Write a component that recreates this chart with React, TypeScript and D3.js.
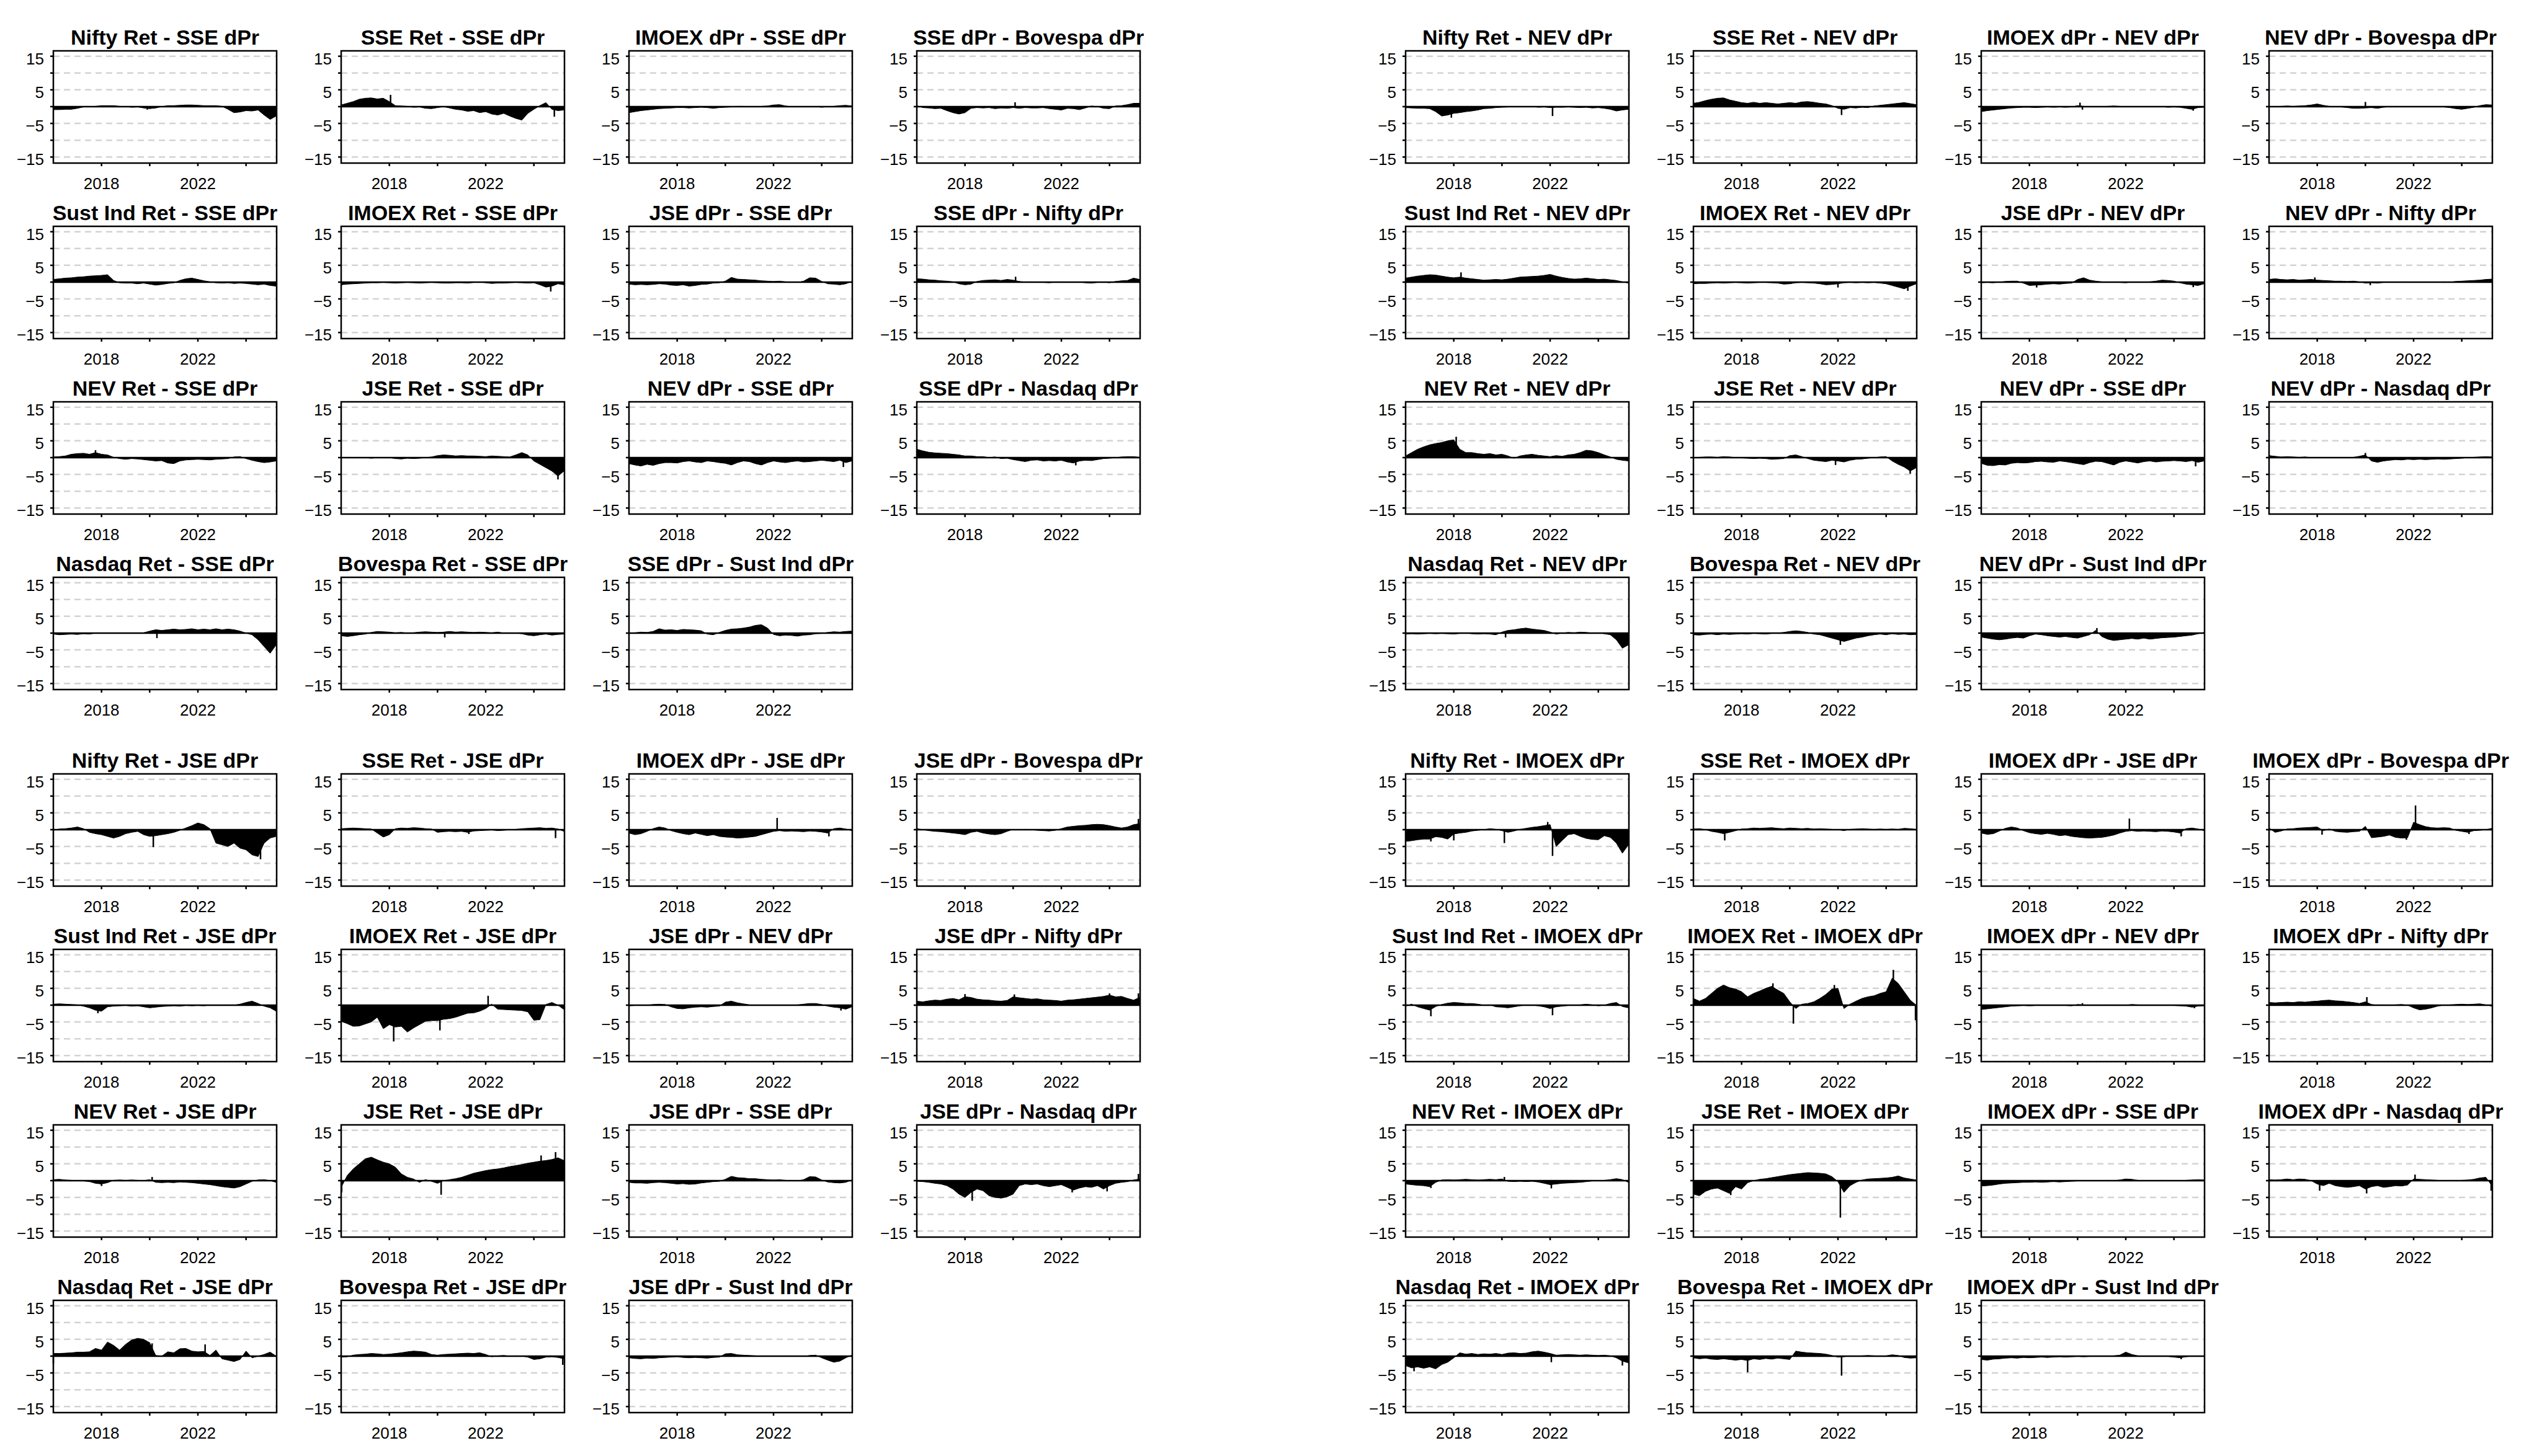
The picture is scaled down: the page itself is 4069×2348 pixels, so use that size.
import React from "react";
import * as d3 from "d3";

// ---------- time grid (quarterly observations) ----------
const QUARTERS: number[] = d3.range(38).map((i) => 2016 + i / 4);
const X_DOMAIN: [number, number] = [2016.0, 2025.27];
const Y_DOMAIN: [number, number] = [-16.8, 16.6];
const Y_TICKS = [-15, -10, -5, 0, 5, 10, 15];
const Y_LABELS = [15, 5, -5, -15];
const X_TICKS = [2018, 2020, 2022, 2024];
const X_LABELS = [2018, 2022];
const GRID_LINES = [-15, -10, -5, 5, 10, 15];

// ---------- block titles ----------
const titlesSSE = [
  "Nifty Ret - SSE dPr", "SSE Ret - SSE dPr", "IMOEX dPr - SSE dPr", "SSE dPr - Bovespa dPr",
  "Sust Ind Ret - SSE dPr", "IMOEX Ret - SSE dPr", "JSE dPr - SSE dPr", "SSE dPr - Nifty dPr",
  "NEV Ret - SSE dPr", "JSE Ret - SSE dPr", "NEV dPr - SSE dPr", "SSE dPr - Nasdaq dPr",
  "Nasdaq Ret - SSE dPr", "Bovespa Ret - SSE dPr", "SSE dPr - Sust Ind dPr",
];
const titlesNEV = [
  "Nifty Ret - NEV dPr", "SSE Ret - NEV dPr", "IMOEX dPr - NEV dPr", "NEV dPr - Bovespa dPr",
  "Sust Ind Ret - NEV dPr", "IMOEX Ret - NEV dPr", "JSE dPr - NEV dPr", "NEV dPr - Nifty dPr",
  "NEV Ret - NEV dPr", "JSE Ret - NEV dPr", "NEV dPr - SSE dPr", "NEV dPr - Nasdaq dPr",
  "Nasdaq Ret - NEV dPr", "Bovespa Ret - NEV dPr", "NEV dPr - Sust Ind dPr",
];
const titlesJSE = [
  "Nifty Ret - JSE dPr", "SSE Ret - JSE dPr", "IMOEX dPr - JSE dPr", "JSE dPr - Bovespa dPr",
  "Sust Ind Ret - JSE dPr", "IMOEX Ret - JSE dPr", "JSE dPr - NEV dPr", "JSE dPr - Nifty dPr",
  "NEV Ret - JSE dPr", "JSE Ret - JSE dPr", "JSE dPr - SSE dPr", "JSE dPr - Nasdaq dPr",
  "Nasdaq Ret - JSE dPr", "Bovespa Ret - JSE dPr", "JSE dPr - Sust Ind dPr",
];
const titlesIMOEX = [
  "Nifty Ret - IMOEX dPr", "SSE Ret - IMOEX dPr", "IMOEX dPr - JSE dPr", "IMOEX dPr - Bovespa dPr",
  "Sust Ind Ret - IMOEX dPr", "IMOEX Ret - IMOEX dPr", "IMOEX dPr - NEV dPr", "IMOEX dPr - Nifty dPr",
  "NEV Ret - IMOEX dPr", "JSE Ret - IMOEX dPr", "IMOEX dPr - SSE dPr", "IMOEX dPr - Nasdaq dPr",
  "Nasdaq Ret - IMOEX dPr", "Bovespa Ret - IMOEX dPr", "IMOEX dPr - Sust Ind dPr",
];

// ---------- SSE dPr block ----------
const sse01 = [-0.9,-0.9,-0.8,-0.8,-0.5,-0.1,0.0,0.1,0.3,0.3,0.3,0.1,0,-0.2,-0.1,-0.4,-0.6,-0.4,0,0.3,0.3,0.4,0.5,0.5,0.4,0.3,0.3,0.3,0.1,-0.8,-1.8,-1.6,-1.2,-1.3,-1.0,-2.5,-3.8,-2.8];
const sse01s: number[][] = [[2019.9,-0.9]];
const sse02 = [0.5,1.0,1.5,2.2,2.5,2.6,2.3,2.5,1.5,0.3,0.2,0.1,-0.2,-0.1,-0.5,-0.6,-0.3,0.0,-0.4,-0.8,-1.0,-1.4,-1.2,-1.8,-1.5,-2.2,-2.5,-2.0,-2.8,-3.5,-4.0,-2.0,-0.8,0.3,1.2,-0.8,-1.2,-1.0];
const sse02s: number[][] = [[2018.05,3.5],[2024.85,-3.0]];
const sse03 = [-1.8,-1.5,-1.2,-1.0,-0.8,-0.6,-0.5,-0.4,-0.3,-0.3,-0.4,-0.3,-0.2,-0.3,-0.5,-0.3,-0.2,-0.1,0.1,0.1,-0.1,0.0,0.1,0.2,0.5,0.6,0.2,0.0,-0.1,-0.1,0.0,0.0,-0.2,0.0,0.1,0.3,0.4,0.2];
const sse03s: number[][] = [];
const sse04 = [0.3,-0.3,-0.4,-0.6,-0.5,-1.2,-1.8,-2.2,-1.8,-0.5,-0.3,-0.4,-0.3,-0.6,-0.4,-0.5,-0.3,-0.5,-0.3,-0.4,-0.4,-0.3,-0.6,-0.8,-1.0,-0.5,-0.6,-0.9,-0.4,0.2,0.0,-0.5,-0.6,0.2,0.3,0.6,1.0,1.0];
const sse04s: number[][] = [[2020.08,1.3]];
const sse05 = [0.8,1.0,1.2,1.3,1.5,1.6,1.8,1.9,2.0,2.2,0.5,-0.2,-0.3,-0.3,-0.5,-0.3,-0.6,-0.9,-0.7,-0.4,-0.2,0.5,1.0,1.2,0.8,0.4,0.1,-0.2,-0.3,-0.2,-0.4,-0.3,-0.4,-0.6,-0.8,-0.6,-1.0,-1.2];
const sse05s: number[][] = [];
const sse06 = [-0.8,-0.6,-0.5,-0.4,-0.3,-0.2,-0.2,-0.1,-0.2,-0.3,-0.2,-0.1,-0.2,-0.3,-0.2,-0.1,-0.2,-0.3,-0.3,-0.2,-0.2,-0.3,-0.1,0.0,-0.2,-0.4,-0.3,-0.3,-0.2,-0.1,-0.2,-0.3,-0.2,-0.8,-1.5,-1.2,-0.5,-0.8];
const sse06s: number[][] = [[2024.7,-2.8]];
const sse07 = [-0.6,-0.8,-0.7,-0.8,-0.7,-0.5,-0.6,-0.9,-1.0,-0.8,-1.2,-1.0,-0.7,-0.6,-0.3,-0.2,0.3,1.4,0.9,0.8,0.7,0.6,0.4,0.3,0.2,0.3,0.1,0.0,-0.1,0.3,1.3,1.2,0.2,-0.5,-0.6,-0.8,-0.5,0.2];
const sse07s: number[][] = [];
const sse08 = [1.0,0.9,0.7,0.6,0.4,0.3,0.1,-0.5,-0.8,-0.6,0.2,0.5,0.6,0.7,0.5,0.8,0.6,0.2,0.0,0.1,0.0,-0.1,-0.2,0.0,0.1,0.0,-0.1,0.0,-0.2,-0.3,-0.1,0.0,-0.2,0.2,0.4,0.5,1.2,0.8];
const sse08s: number[][] = [[2020.1,1.6]];
const sse09 = [0.2,0.3,0.5,1.0,1.2,1.3,1.0,1.5,1.0,0.8,0.1,-0.3,-0.5,-0.3,-0.4,-0.6,-0.8,-1.0,-0.9,-1.6,-1.8,-1.0,-0.7,-0.6,-0.5,-0.6,-0.7,-0.5,-0.4,-0.3,0.2,0.3,-0.3,-0.8,-1.2,-1.5,-1.3,-1.0];
const sse09s: number[][] = [[2017.75,2.2]];
const sse10 = [0.0,0.1,0.0,0.1,0.0,-0.2,0.0,-0.1,0.0,-0.3,-0.4,-0.2,-0.3,-0.2,0.0,0.2,0.6,0.8,0.7,0.5,0.6,0.5,0.5,0.4,0.3,0.5,0.4,0.3,0.2,0.8,1.5,0.8,-1.0,-2.0,-3.0,-4.0,-5.5,-4.0];
const sse10s: number[][] = [[2025.0,-6.5]];
const sse11 = [-1.8,-2.2,-2.5,-2.0,-2.3,-1.8,-1.5,-1.5,-1.6,-1.2,-1.0,-1.3,-1.5,-1.0,-1.2,-1.5,-1.7,-2.2,-1.5,-1.0,-1.2,-1.8,-2.2,-1.5,-1.0,-1.3,-1.5,-1.2,-1.0,-1.3,-1.2,-1.0,-0.8,-1.0,-1.2,-0.8,-1.5,-1.0];
const sse11s: number[][] = [[2024.9,-2.8]];
const sse12 = [2.5,2.0,1.6,1.4,1.3,1.2,1.0,0.8,0.5,0.5,0.3,0.3,0.0,0.2,-0.3,-0.2,-0.6,-0.9,-1.2,-0.8,-0.7,-1.0,-0.9,-1.0,-0.8,-1.3,-1.6,-1.0,-0.8,-0.9,-0.6,-0.3,-0.2,0.0,0.2,0.3,0.3,0.1];
const sse12s: number[][] = [[2022.6,-2.3]];
const sse13 = [-0.3,-0.5,-0.4,-0.3,-0.4,-0.2,-0.3,0.0,-0.1,0.0,0.1,0.0,-0.1,0.0,0.0,0.1,0.6,1.0,0.8,1.0,1.2,1.0,1.1,1.3,1.0,1.2,1.0,1.3,1.0,1.2,1.0,0.6,0.0,-0.5,-2.0,-4.0,-6.0,-3.5];
const sse13s: number[][] = [[2020.3,-1.5]];
const sse14 = [-0.8,-1.0,-0.8,-0.5,-0.3,0.2,0.5,0.4,0.3,0.1,0.2,0.0,0.1,0.3,0.4,0.3,0.2,0.3,0.5,0.3,0.4,0.3,0.2,0.3,0.2,0.1,0.3,0.0,0.1,0.0,-0.2,-0.6,-0.8,-0.5,-0.3,-0.6,-0.4,-0.3];
const sse14s: number[][] = [[2020.3,-1.3]];
const sse15 = [0.0,0.1,0.3,0.2,0.5,1.3,0.9,1.0,0.8,1.1,1.0,0.9,0.7,-0.3,-0.5,0.2,0.8,1.2,1.3,1.5,1.8,2.3,2.5,1.5,-0.4,-0.8,-0.6,-0.7,-0.9,-0.6,-0.5,-0.2,-0.1,0.2,0.4,0.3,0.5,0.6];
const sse15s: number[][] = [];

// ---------- NEV dPr block ----------
const nev01 = [-0.3,-0.4,-0.5,-0.5,-0.6,-1.5,-2.8,-2.5,-2.0,-1.8,-1.5,-1.3,-1.0,-0.6,-0.5,-0.3,-0.2,-0.1,0.1,0.0,-0.1,0.1,-0.2,-0.1,-0.3,-0.2,-0.2,-0.1,-0.2,-0.3,-0.2,-0.4,-0.3,-0.5,-0.8,-1.3,-1.0,-0.8];
const nev01s: number[][] = [[2022.1,-2.8],[2017.9,-3.3]];
const nev02 = [1.0,1.3,1.8,2.2,2.5,2.6,2.0,1.6,1.2,1.0,1.3,1.0,1.2,1.0,0.8,1.0,1.2,1.0,1.4,1.5,1.3,1.0,0.8,0.3,-0.5,-0.8,-0.3,-0.4,-0.2,-0.3,0.2,0.4,0.6,0.8,1.0,1.2,0.9,0.6];
const nev02s: number[][] = [[2022.15,-2.5]];
const nev03 = [-1.5,-1.2,-1.0,-0.8,-0.6,-0.4,-0.3,-0.2,-0.2,-0.3,-0.2,-0.1,-0.2,-0.1,-0.2,-0.1,0.3,0.1,0.0,-0.1,0.0,0.1,0.2,0.1,0.0,-0.1,0.0,0.1,0.0,-0.1,0.0,-0.2,-0.1,-0.2,-0.5,-0.8,-0.3,-0.2];
const nev03s: number[][] = [[2020.1,1.2],[2020.2,-0.9],[2024.8,-1.2]];
const nev04 = [0.1,0.0,0.1,0.2,0.1,0.2,0.3,0.5,0.8,0.4,0.1,0.0,-0.1,-0.3,-0.5,-0.5,-0.4,-0.3,-0.5,-0.2,0.0,0.1,0.0,-0.1,0.0,-0.1,0.0,0.1,0.0,-0.1,-0.3,-0.6,-0.8,-0.5,-0.2,0.3,0.6,0.5];
const nev04s: number[][] = [[2020.0,1.4]];
const nev05 = [1.2,1.5,1.8,2.0,2.2,2.1,1.8,1.5,1.3,1.5,1.2,1.0,0.8,0.6,0.7,0.8,0.7,0.9,1.2,1.5,1.6,1.7,1.8,2.0,2.3,1.8,1.4,1.1,0.9,1.0,1.2,1.0,0.8,0.9,0.7,0.5,0.1,-0.3];
const nev05s: number[][] = [[2018.3,2.9]];
const nev06 = [-0.5,-0.4,-0.4,-0.3,-0.2,-0.3,-0.2,-0.1,-0.2,-0.3,-0.2,-0.1,-0.1,-0.2,-0.3,-0.6,-0.5,-0.2,-0.1,-0.2,-0.3,-0.5,-0.8,-0.7,-0.5,-0.2,-0.1,-0.2,-0.1,-0.2,-0.1,-0.3,-0.5,-1.0,-1.5,-2.0,-1.2,-0.5];
const nev06s: number[][] = [[2022.0,-1.6],[2024.9,-2.6]];
const nev07 = [-0.2,-0.1,-0.2,0.0,0.2,0.3,0.3,-0.3,-1.0,-0.9,-0.8,-0.6,-0.5,-0.6,-0.4,-0.3,0.8,1.3,0.6,0.3,0.1,-0.1,0.0,-0.1,-0.2,0.0,-0.1,0.0,0.1,0.3,0.6,0.5,0.3,-0.2,-0.6,-0.8,-1.0,-0.5];
const nev07s: number[][] = [[2018.3,-1.6],[2024.8,-1.5]];
const nev08 = [0.8,1.0,0.8,0.7,0.8,0.6,0.7,0.8,0.6,0.5,0.4,0.3,0.3,0.2,0.3,0.1,-0.3,-0.2,-0.3,-0.1,0.0,0.0,0.1,0.0,-0.1,0.0,0.0,0.1,0.0,0.1,0.0,0.2,0.3,0.4,0.5,0.6,0.8,0.9];
const nev08s: number[][] = [[2017.9,1.4],[2020.2,-0.9]];
const nev09 = [0.5,1.5,2.5,3.2,3.8,4.2,4.5,5.0,5.3,2.5,1.5,1.5,1.2,1.0,1.2,0.8,1.0,0.5,-0.2,0.5,0.8,1.0,0.7,0.5,0.3,0.6,0.4,0.8,1.0,1.5,2.2,2.0,1.5,0.8,0.2,-0.5,-0.8,-1.0];
const nev09s: number[][] = [[2018.1,6.2]];
const nev10 = [0.0,0.1,0.2,0.2,0.1,0.3,0.2,0.0,-0.1,-0.2,-0.3,-0.2,-0.3,-0.5,-0.4,-0.3,0.6,0.8,0.3,-0.3,-0.8,-1.0,-1.2,-0.8,-1.0,-1.3,-0.8,-0.5,-0.4,-0.2,0.0,0.2,0.3,-1.0,-2.0,-2.8,-4.0,-3.0];
const nev10s: number[][] = [[2021.9,-2.2],[2025.0,-4.8]];
const nev11 = [-1.7,-2.3,-2.4,-2.1,-2.2,-1.7,-1.5,-1.6,-1.5,-1.2,-1.1,-1.3,-1.4,-1.0,-1.2,-1.5,-1.8,-2.1,-1.5,-1.1,-1.2,-1.7,-2.2,-1.4,-1.0,-1.3,-1.6,-1.2,-1.0,-1.3,-1.1,-1.0,-0.9,-1.0,-1.2,-0.9,-1.4,-1.0];
const nev11s: number[][] = [[2024.9,-2.6]];
const nev12 = [0.6,0.4,0.2,0.3,0.2,0.1,0.2,0.0,0.1,0.0,0.1,0.0,-0.1,0.0,0.1,0.4,0.8,-1.0,-1.4,-1.0,-0.8,-0.6,-0.7,-0.5,-0.6,-0.5,-0.6,-0.5,-0.4,-0.5,-0.4,-0.3,-0.2,0.0,0.1,0.2,0.3,0.2];
const nev12s: number[][] = [[2020.0,1.4]];
const nev13 = [-0.3,-0.2,-0.3,-0.2,-0.1,-0.2,-0.1,-0.2,-0.3,-0.1,0.0,-0.2,-0.3,-0.2,-0.3,-0.5,0.3,0.8,1.0,1.3,1.5,1.2,1.0,0.8,0.3,-0.3,0.0,0.2,0.1,0.3,0.2,0.0,0.1,-0.2,-0.5,-2.0,-4.5,-3.5];
const nev13s: number[][] = [[2020.15,-1.3]];
const nev14 = [-0.5,-0.6,-0.4,-0.3,-0.5,-0.3,-0.4,-0.3,-0.2,-0.3,-0.1,-0.2,-0.3,-0.1,0.0,0.2,0.5,0.7,0.5,0.2,-0.3,-0.5,-1.0,-1.5,-2.0,-2.5,-2.0,-1.5,-1.2,-0.8,-0.5,-0.3,-0.5,-0.2,-0.4,-0.3,-0.5,-0.4];
const nev14s: number[][] = [[2022.1,-3.5]];
const nev15 = [-1.2,-1.5,-1.8,-2.0,-1.8,-1.5,-1.3,-1.5,-0.8,-0.3,-0.5,-0.8,-1.0,-1.2,-1.0,-1.3,-1.5,-1.0,-0.5,0.8,-1.0,-1.8,-2.2,-2.0,-1.8,-1.6,-1.8,-1.5,-1.8,-1.6,-1.4,-1.3,-1.2,-1.0,-0.8,-0.6,-0.2,0.2];
const nev15s: number[][] = [[2020.8,1.5]];

// ---------- JSE dPr block ----------
const jse01 = [-0.2,0.2,0.3,0.5,0.8,0.3,-0.8,-1.2,-1.5,-2.0,-2.5,-2.0,-1.2,-0.8,-0.5,-1.5,-2.0,-1.8,-1.5,-1.2,-0.8,-0.2,0.5,1.2,2.0,1.5,0.3,-4.0,-4.5,-5.0,-4.0,-5.5,-6.0,-7.5,-8.0,-4.0,-2.5,-2.0];
const jse01s: number[][] = [[2020.15,-5.2],[2024.6,-8.8]];
const jse02 = [0.3,0.4,0.5,0.4,0.3,0.2,-1.0,-2.2,-1.5,0.3,0.5,0.4,0.6,0.5,0.3,0.2,-0.8,-0.6,-0.5,-0.6,-0.5,-0.8,-0.4,-0.3,-0.2,-0.1,-0.3,-0.2,0.0,0.1,0.3,0.4,0.5,0.6,0.4,0.5,0.2,-0.5];
const jse02s: number[][] = [[2024.9,-2.5],[2021.3,-1.3]];
const jse03 = [-1.0,-1.5,-1.2,-0.5,0.3,0.8,0.5,-0.3,-0.8,-1.2,-1.5,-1.0,-1.4,-1.8,-1.5,-2.0,-2.2,-2.3,-2.5,-2.4,-2.2,-2.0,-1.5,-1.0,-0.5,-0.3,-0.5,-0.4,-0.5,-0.6,-0.4,-0.5,-0.7,-1.0,0.3,0.5,0.2,-0.3];
const jse03s: number[][] = [[2022.15,3.5],[2024.3,-2.0]];
const jse04 = [0.3,0.0,-0.3,-0.5,-0.6,-0.8,-1.0,-1.2,-1.5,-0.8,-0.5,-1.0,-1.3,-1.5,-1.2,-0.5,0.1,0.0,0.1,0.0,-0.2,-0.3,-0.4,-0.2,0.3,0.8,1.0,1.2,1.3,1.5,1.6,1.5,1.2,0.8,0.5,0.8,1.5,1.8];
const jse04s: number[][] = [[2025.2,3.2]];
const jse05 = [0.3,0.4,0.3,0.2,0.1,-0.3,-0.8,-1.5,-1.8,-0.5,-0.3,-0.2,-0.1,-0.3,-0.2,-0.5,-0.8,-0.6,-0.4,-0.3,-0.2,-0.3,-0.1,-0.2,-0.1,-0.2,0.0,-0.1,0.0,0.1,0.0,0.3,0.8,1.2,0.5,-0.3,-0.8,-1.8];
const jse05s: number[][] = [[2017.85,-2.4]];
const jse06 = [-4.8,-5.5,-6.3,-6.2,-5.6,-5.0,-3.6,-7.0,-5.8,-6.5,-6.3,-8.0,-6.8,-5.8,-4.8,-4.6,-4.6,-4.2,-4.0,-3.6,-3.0,-2.4,-2.3,-1.8,-1.0,0.3,-1.2,-1.3,-1.4,-1.5,-1.6,-2.0,-4.5,-4.3,0.2,0.8,0.0,-1.3];
const jse06s: number[][] = [[2018.18,-10.8],[2020.1,-7.5],[2022.1,2.8]];
const jse07 = [-0.2,-0.1,-0.1,0.0,0.2,0.3,0.2,-0.5,-1.0,-1.1,-0.8,-0.6,-0.5,-0.6,-0.4,-0.3,0.9,1.2,0.7,0.4,0.1,0.0,0.0,-0.1,-0.1,0.0,-0.1,0.0,0.1,0.3,0.5,0.5,0.2,-0.3,-0.6,-0.8,-1.2,-0.5];
const jse07s: number[][] = [[2024.8,-1.6]];
const jse08 = [1.2,1.0,1.3,1.5,1.4,1.8,2.0,1.6,2.5,2.3,1.8,1.6,1.5,1.3,1.2,1.4,2.5,2.2,2.0,1.8,1.9,1.6,1.5,1.4,1.2,1.5,1.6,1.8,2.0,2.2,2.4,2.6,3.0,2.5,2.6,2.0,1.5,2.3];
const jse08s: number[][] = [[2018.0,3.3],[2020.05,3.2],[2024.0,3.5],[2025.2,3.5]];
const jse09 = [0.3,0.4,0.2,0.1,0.0,-0.1,-0.3,-0.8,-1.0,-0.6,0.1,0.2,0.1,0.2,0.1,0.0,0.3,-0.5,-0.6,-0.5,-0.6,-0.4,-0.5,-0.6,-0.8,-1.0,-1.2,-1.5,-1.8,-2.0,-2.2,-1.8,-1.0,-0.2,0.2,0.3,0.0,-0.5];
const jse09s: number[][] = [[2018.0,-1.6],[2020.1,1.1]];
const jse10 = [-2.0,1.5,3.5,5.0,6.5,7.0,6.2,5.5,5.0,4.0,2.0,1.0,0.5,-0.5,0.3,-0.2,-0.8,0.0,0.3,0.6,1.0,1.6,2.2,2.6,3.0,3.3,3.5,3.8,4.2,4.5,4.8,5.2,5.5,5.8,6.0,6.3,6.8,6.0];
const jse10s: number[][] = [[2016.02,-3.5],[2020.15,-4.2],[2024.9,8.5],[2024.3,7.5]];
const jse11 = [-0.5,-0.7,-0.7,-0.8,-0.6,-0.5,-0.6,-0.8,-1.0,-0.9,-1.1,-1.0,-0.7,-0.5,-0.3,-0.2,0.4,1.3,0.9,0.8,0.6,0.6,0.4,0.3,0.2,0.3,0.1,0.0,-0.1,0.3,1.2,1.1,0.2,-0.4,-0.6,-0.7,-0.5,0.2];
const jse11s: number[][] = [];
const jse12 = [-0.2,-0.3,-0.5,-0.8,-1.0,-1.5,-2.5,-4.0,-5.0,-3.5,-2.5,-3.0,-4.5,-5.0,-5.2,-4.8,-4.0,-1.5,-1.0,-1.2,-1.0,-1.5,-1.8,-1.5,-1.2,-2.0,-2.8,-2.2,-1.8,-2.0,-1.5,-2.5,-1.5,-0.8,-0.5,-0.3,0.2,0.5];
const jse12s: number[][] = [[2018.3,-6.0],[2022.45,-3.5],[2023.9,-3.2],[2025.2,2.0]];
const jse13 = [0.8,0.8,0.9,1.0,1.2,1.2,1.3,2.3,1.8,4.2,3.2,1.8,3.5,4.8,5.3,5.0,4.0,0.2,0.0,1.3,1.0,2.2,2.3,1.5,1.3,1.4,0.2,1.8,-0.8,-1.2,-1.6,-1.0,1.5,-0.5,0.0,0.5,1.2,0.0];
const jse13s: number[][] = [[2016.0,-2.2],[2022.3,3.5],[2020.1,3.8]];
const jse14 = [-0.3,-0.2,0.3,0.5,0.6,0.8,0.7,0.5,0.6,0.8,1.0,1.3,1.5,1.4,1.2,0.5,0.3,0.5,0.6,0.7,0.8,0.9,0.8,1.0,0.5,-0.2,0.1,0.2,0.0,0.1,0.0,-0.3,-1.0,-0.8,-0.3,-0.2,-0.4,-0.8];
const jse14s: number[][] = [[2025.2,-2.6]];
const jse15 = [-0.5,-0.7,-0.8,-0.6,-0.7,-0.5,-0.4,-0.3,-0.2,-0.4,-0.5,-0.4,-0.5,-0.6,-0.4,-0.3,0.7,0.8,0.4,0.3,0.2,0.1,0.0,0.1,0.0,-0.1,0.0,0.1,0.0,-0.1,0.2,0.3,-0.5,-1.2,-1.8,-1.5,-0.5,0.3];
const jse15s: number[][] = [];

// ---------- IMOEX dPr block ----------
const imx01 = [-3.5,-3.3,-3.0,-2.8,-2.8,-2.1,-2.3,-2.8,-1.3,-1.0,-0.8,-0.4,-0.2,0.0,0.3,0.1,-0.3,-0.8,-0.4,0.1,0.4,0.7,0.9,1.2,1.5,-5.0,-3.2,-1.5,-1.2,-2.0,-2.6,-2.9,-3.0,-1.8,-2.3,-4.0,-7.0,-4.5];
const imx01s: number[][] = [[2017.05,-3.5],[2018.0,-3.2],[2020.1,-4.0],[2021.9,2.3],[2022.1,-7.8]];
const imx02 = [0.2,0.3,0.0,-0.5,-0.8,-1.2,-0.8,-0.3,0.2,0.3,0.5,0.4,0.5,0.6,0.4,0.3,0.5,0.4,0.3,0.4,0.2,0.3,0.2,0.1,0.0,-0.3,0.1,0.2,0.3,0.2,0.1,0.2,0.1,0.2,0.1,0.4,0.3,0.1];
const imx02s: number[][] = [[2017.3,-3.2]];
const imx03 = [-1.0,-1.4,-1.2,-0.4,0.4,0.8,0.5,-0.3,-0.9,-1.2,-1.4,-1.1,-1.4,-1.8,-1.6,-2.0,-2.2,-2.4,-2.5,-2.4,-2.3,-2.0,-1.6,-1.0,-0.5,-0.3,-0.5,-0.4,-0.5,-0.6,-0.4,-0.5,-0.7,-1.0,0.3,0.5,0.2,-0.3];
const imx03s: number[][] = [[2022.15,3.3],[2024.3,-2.0]];
const imx04 = [0.5,-0.8,-0.4,0.2,0.3,0.5,0.6,0.7,0.8,-0.3,0.2,-0.5,-0.7,-0.8,-0.6,-0.5,1.0,-2.4,-2.2,-2.0,-1.6,-2.3,-2.5,-2.4,2.2,1.5,0.9,0.6,0.5,0.6,0.5,-0.2,-0.5,-0.8,-0.3,-0.2,0.0,0.4];
const imx04s: number[][] = [[2018.2,-1.5],[2021.7,-3.0],[2022.08,7.2],[2024.3,-1.3]];
const imx05 = [-0.3,0.3,-0.5,-1.0,-1.5,-0.4,0.2,0.6,0.8,0.7,0.5,0.5,0.3,0.0,0.1,-0.5,-0.6,-0.8,-0.5,-0.2,0.0,0.0,-0.2,-0.5,-1.0,-0.5,-0.3,-0.1,0.0,0.1,0.3,0.1,-0.2,0.0,0.5,0.8,-0.4,-0.8];
const imx05s: number[][] = [[2017.05,-3.3],[2022.1,-3.0]];
const imx06 = [2.0,1.2,2.0,3.5,5.0,6.0,5.2,4.8,4.0,2.5,3.5,4.2,5.0,5.6,4.5,3.5,1.0,-1.0,0.3,0.5,1.0,2.0,3.2,4.8,5.0,-1.0,0.3,1.2,2.0,2.5,2.8,3.5,4.0,8.0,6.5,4.0,1.5,0.0];
const imx06s: number[][] = [[2020.15,-5.5],[2019.3,6.5],[2021.85,6.0],[2024.3,10.5],[2025.22,-4.5]];
const imx07 = [-1.3,-1.1,-0.9,-0.7,-0.5,-0.3,-0.2,-0.1,-0.2,-0.1,0.0,-0.1,-0.1,0.0,-0.1,-0.2,0.2,0.1,0.0,-0.1,0.0,0.1,0.0,0.1,0.0,0.2,0.1,0.0,-0.1,0.0,-0.1,0.0,-0.1,-0.2,-0.3,-0.6,-0.3,-0.2];
const imx07s: number[][] = [[2020.2,0.6],[2024.85,-0.9]];
const imx08 = [0.8,0.7,0.8,0.9,0.8,1.0,0.9,1.1,1.2,1.4,1.5,1.3,1.2,1.0,0.8,0.5,1.0,0.2,0.0,0.1,0.0,0.1,0.2,0.0,-0.8,-1.4,-1.2,-0.8,-0.3,0.0,0.1,0.2,0.3,0.2,0.3,0.4,0.1,-0.3];
const imx08s: number[][] = [[2020.06,2.4]];
const imx09 = [-1.0,-1.2,-1.4,-1.5,-1.8,-0.5,0.2,0.3,0.2,0.3,0.4,0.3,0.2,0.3,0.4,0.3,0.5,-0.2,-0.3,-0.2,-0.3,-0.2,-0.4,-0.8,-1.2,-1.0,-0.8,-0.7,-0.6,-0.5,-0.3,-0.1,0.0,0.1,0.3,0.6,0.3,-0.5];
const imx09s: number[][] = [[2017.05,-2.2],[2020.1,1.1],[2022.05,-2.3]];
const imx10 = [-4.0,-4.5,-3.2,-2.5,-2.2,-3.0,-3.8,-1.8,-2.5,-0.6,0.0,0.4,0.6,0.9,1.2,1.5,1.8,2.0,2.2,2.4,2.3,2.2,2.0,1.2,-0.3,-3.5,-1.5,-0.5,0.2,0.5,0.6,0.7,0.8,1.0,1.4,0.8,0.5,0.2];
const imx10s: number[][] = [[2022.1,-11.0],[2017.55,-4.3]];
const imx11 = [-1.6,-1.5,-1.3,-1.0,-0.8,-0.7,-0.6,-0.5,-0.5,-0.4,-0.5,-0.4,-0.3,-0.4,-0.3,-0.2,-0.1,0.0,-0.1,0.0,0.0,0.1,0.0,0.2,0.5,0.4,0.1,0.0,-0.1,0.0,0.1,0.0,-0.1,0.0,0.1,0.2,0.3,0.2];
const imx11s: number[][] = [];
const imx12 = [0.3,0.2,0.3,0.5,0.3,0.5,0.4,0.0,-1.0,-1.5,-0.8,-1.5,-1.8,-2.0,-1.8,-1.5,-2.5,-1.8,-1.5,-2.0,-1.8,-1.5,-1.6,-1.3,0.5,0.4,0.3,0.2,0.1,0.0,0.1,0.0,0.1,0.2,0.4,0.8,1.0,-1.5];
const imx12s: number[][] = [[2018.1,-3.0],[2020.05,-3.8],[2022.06,1.8],[2025.22,-3.0]];
const imx13 = [-2.8,-3.5,-3.2,-3.6,-3.2,-3.8,-2.5,-1.8,-0.5,1.0,0.6,0.8,0.5,0.7,0.6,0.8,0.5,0.9,1.0,0.8,0.9,1.3,1.5,1.2,0.8,0.3,0.4,0.5,0.4,0.3,0.4,0.3,0.2,0.3,0.1,-0.5,-1.5,-2.0];
const imx13s: number[][] = [[2016.35,-4.5],[2022.05,-1.8],[2025.0,-2.8]];
const imx14 = [-0.5,-0.8,-0.6,-0.9,-1.0,-0.8,-1.0,-1.2,-1.0,-1.3,-0.8,-1.0,-0.7,-0.9,-0.6,-0.8,-1.0,1.5,1.2,1.0,0.9,0.8,0.6,0.2,-0.3,-0.2,0.1,0.0,0.1,0.2,0.1,0.0,0.1,0.4,0.2,-0.4,-0.6,-0.5];
const imx14s: number[][] = [[2018.25,-4.8],[2022.15,-5.8]];
const imx15 = [-1.0,-1.2,-0.9,-0.8,-0.6,-0.5,-0.6,-0.4,-0.5,-0.4,-0.3,-0.4,-0.3,-0.2,-0.3,-0.2,-0.1,-0.2,-0.1,0.0,-0.1,0.0,0.1,0.3,1.2,0.5,0.1,0.0,0.0,-0.1,0.0,-0.1,-0.3,-0.5,-0.2,0.0,-0.1,0.0];
const imx15s: number[][] = [[2024.3,-0.9]];

type PanelSpec = { title: string; values: number[]; spikes: number[][] };

const mk = (titles: string[], vals: number[][], spk: number[][][]): PanelSpec[] =>
  titles.map((t, i) => ({ title: t, values: vals[i], spikes: spk[i] }));

const blocks: PanelSpec[][] = [
  mk(titlesSSE,
    [sse01, sse02, sse03, sse04, sse05, sse06, sse07, sse08, sse09, sse10, sse11, sse12, sse13, sse14, sse15],
    [sse01s, sse02s, sse03s, sse04s, sse05s, sse06s, sse07s, sse08s, sse09s, sse10s, sse11s, sse12s, sse13s, sse14s, sse15s]),
  mk(titlesNEV,
    [nev01, nev02, nev03, nev04, nev05, nev06, nev07, nev08, nev09, nev10, nev11, nev12, nev13, nev14, nev15],
    [nev01s, nev02s, nev03s, nev04s, nev05s, nev06s, nev07s, nev08s, nev09s, nev10s, nev11s, nev12s, nev13s, nev14s, nev15s]),
  mk(titlesJSE,
    [jse01, jse02, jse03, jse04, jse05, jse06, jse07, jse08, jse09, jse10, jse11, jse12, jse13, jse14, jse15],
    [jse01s, jse02s, jse03s, jse04s, jse05s, jse06s, jse07s, jse08s, jse09s, jse10s, jse11s, jse12s, jse13s, jse14s, jse15s]),
  mk(titlesIMOEX,
    [imx01, imx02, imx03, imx04, imx05, imx06, imx07, imx08, imx09, imx10, imx11, imx12, imx13, imx14, imx15],
    [imx01s, imx02s, imx03s, imx04s, imx05s, imx06s, imx07s, imx08s, imx09s, imx10s, imx11s, imx12s, imx13s, imx14s, imx15s]),
];

// ---------- layout ----------
const FIG_W = 4069;
const FIG_H = 2348;
const PW = 360;
const PH = 181;
const BLOCK_X = [0, 2180];
const BLOCK_Y = [0, 1166];
const FONT = "Arial, 'Liberation Sans', Helvetica, sans-serif";

function Panel({ spec, x0, y0 }: { spec: PanelSpec; x0: number; y0: number }) {
  const x = d3.scaleLinear().domain(X_DOMAIN).range([0, PW]);
  const y = d3.scaleLinear().domain(Y_DOMAIN).range([PH, 0]);
  const area = d3
    .area<number>()
    .x((_, i) => x(QUARTERS[i]))
    .y0(y(0))
    .y1((d) => y(d))
    .curve(d3.curveLinear);
  const fmt = (v: number) => (v < 0 ? "\u2212" + Math.abs(v) : String(v));
  return (
    <g transform={`translate(${x0},${y0})`}>
      <text x={PW / 2} y={-10} textAnchor="middle" fontFamily={FONT} fontWeight="bold" fontSize={34} fill="#000">
        {spec.title}
      </text>
      {GRID_LINES.map((g) => (
        <line key={"g" + g} x1={0} x2={PW} y1={y(g)} y2={y(g)} stroke="#d3d3d3" strokeWidth={2.5} strokeDasharray="10,7" />
      ))}
      <path d={area(spec.values) || ""} fill="#000" stroke="#000" strokeWidth={1} />
      {spec.spikes.map((s, i) => (
        <line key={"s" + i} x1={x(s[0])} x2={x(s[0])} y1={y(0)} y2={y(s[1])} stroke="#000" strokeWidth={2.5} />
      ))}
      <line x1={0} x2={PW} y1={y(0)} y2={y(0)} stroke="#000" strokeWidth={2.5} />
      <rect x={0} y={0} width={PW} height={PH} fill="none" stroke="#000" strokeWidth={2.5} />
      {Y_TICKS.map((t) => (
        <line key={"yt" + t} x1={-5} x2={0} y1={y(t)} y2={y(t)} stroke="#000" strokeWidth={2.5} />
      ))}
      {Y_LABELS.map((t) => (
        <text key={"yl" + t} x={-15} y={y(t) + 13} textAnchor="end" fontFamily={FONT} fontSize={26} fill="#000">
          {fmt(t)}
        </text>
      ))}
      {X_TICKS.map((t) => (
        <line key={"xt" + t} x1={x(t)} x2={x(t)} y1={PH} y2={PH + 5} stroke="#000" strokeWidth={2.5} />
      ))}
      {X_LABELS.map((t) => (
        <text key={"xl" + t} x={x(t)} y={PH + 42} textAnchor="middle" fontFamily={FONT} fontSize={26} fill="#000">
          {t}
        </text>
      ))}
    </g>
  );
}

export default function App() {
  return (
    <svg
      width={FIG_W}
      height={FIG_H}
      viewBox={`0 0 ${FIG_W} ${FIG_H}`}
      style={{ position: "absolute", left: 0, top: 0, background: "#fff" }}
    >
      <rect x={0} y={0} width={FIG_W} height={FIG_H} fill="#fff" />
      {blocks.map((panels, b) =>
        panels.map((spec, k) => {
          const r = Math.floor(k / 4);
          const c = k % 4;
          const x0 = BLOCK_X[b % 2] + 86 + c * 464;
          const y0 = BLOCK_Y[Math.floor(b / 2)] + 82 + r * 283;
          return <Panel key={`${b}-${k}`} spec={spec} x0={x0} y0={y0} />;
        })
      )}
    </svg>
  );
}
